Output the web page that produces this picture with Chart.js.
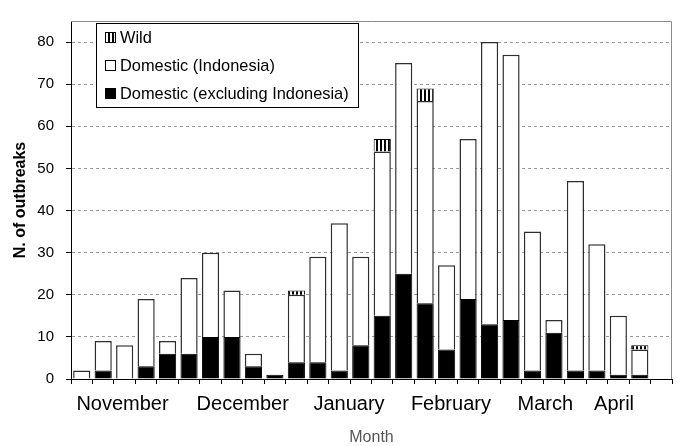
<!DOCTYPE html>
<html>
<head>
<meta charset="utf-8">
<script src="https://cdn.jsdelivr.net/npm/chart.js@4/dist/chart.umd.min.js"></script>
<style>
  html, body { margin: 0; padding: 0; background: #fff; }
  #wrap { width: 678px; height: 446px; }
</style>
</head>
<body>
<div id="wrap"><canvas id="c" width="678" height="446"></canvas></div>
<script>
// Weekly outbreak counts, November to April (28 weekly slots, last one empty)
const weeks = Array.from({ length: 28 }, (_, i) => 'W' + (i + 1));
const domesticExclIndonesia = [0, 2, 0, 3, 6, 6, 10, 10, 3, 1, 4, 4, 2, 8, 15, 25, 18, 7, 19, 13, 14, 2, 11, 2, 2, 1, 1, 0];
const domesticIndonesia     = [2, 7, 8, 16, 3, 18, 20, 11, 3, 0, 16, 25, 35, 21, 39, 50, 48, 20, 38, 67, 63, 33, 3, 45, 30, 14, 6, 0];
const wild                  = [0, 0, 0, 0, 0, 0, 0, 0, 0, 0, 1, 0, 0, 0, 3, 0, 3, 0, 0, 0, 0, 0, 0, 0, 0, 0, 1, 0];

const yTicks = [0, 10, 20, 30, 40, 50, 60, 70, 80];
const monthNames = ['November', 'December', 'January', 'February', 'March', 'April'];
// week index (in slot units) under which each month name is centred
const monthTickAt = [2.4, 8.0, 12.95, 17.7, 22.1, 25.3];

const FONT = '"Liberation Sans", Arial, sans-serif';

const canvas = document.getElementById('c');
const ctx0 = canvas.getContext('2d');

// vertical black/white stripes used for the "Wild" series
function stripePattern(ctx) {
  const p = document.createElement('canvas');
  p.width = 4; p.height = 4;
  const g = p.getContext('2d');
  g.fillStyle = '#fff'; g.fillRect(0, 0, 4, 4);
  g.fillStyle = '#000'; g.fillRect(0, 0, 2, 4);
  return ctx.createPattern(p, 'repeat');
}
const stripes = stripePattern(ctx0);

// grey frame on the top and right of the plot area
const framePlugin = {
  id: 'frame',
  beforeDatasetsDraw(chart) {
    const { ctx, chartArea: a } = chart;
    ctx.save();
    ctx.strokeStyle = '#8a8a8a';
    ctx.lineWidth = 1;
    ctx.beginPath();
    ctx.moveTo(a.left, Math.round(a.top) + 0.5);
    ctx.lineTo(Math.round(a.right) - 0.5, Math.round(a.top) + 0.5);
    ctx.lineTo(Math.round(a.right) - 0.5, a.bottom);
    ctx.stroke();
    ctx.restore();
  }
};

// boxed legend inside the plot, top-left
const legendBoxPlugin = {
  id: 'legendBox',
  afterDraw(chart) {
    const { ctx } = chart;
    const box = { x: 96, y: 23, w: 262, h: 84 };
    ctx.save();
    ctx.fillStyle = '#fff';
    ctx.fillRect(box.x, box.y, box.w, box.h);
    ctx.strokeStyle = '#000';
    ctx.lineWidth = 1;
    ctx.strokeRect(box.x + 0.5, box.y + 0.5, box.w, box.h);

    const items = [chart.data.datasets[2], chart.data.datasets[1], chart.data.datasets[0]];
    const baselines = [43, 71, 99];
    ctx.font = '16.4px ' + FONT;
    ctx.textBaseline = 'alphabetic';
    ctx.textAlign = 'left';
    items.forEach((ds, i) => {
      const by = baselines[i];
      const sx = 105, sy = by - 11, s = 11;
      ctx.fillStyle = ds.backgroundColor;
      ctx.fillRect(sx, sy, s, s);
      ctx.strokeStyle = '#000';
      ctx.lineWidth = 1;
      ctx.strokeRect(sx + 0.5, sy + 0.5, s - 1, s - 1);
      ctx.fillStyle = '#000';
      ctx.fillText(ds.label, 120, by);
    });
    ctx.restore();
  }
};

const bw = (w) => (c) => (c.raw ? w : 0);

new Chart(canvas, {
  type: 'bar',
  data: {
    labels: weeks,
    datasets: [
      { label: 'Domestic (excluding Indonesia)', data: domesticExclIndonesia,
        backgroundColor: '#000', borderColor: '#000', borderWidth: bw(1) },
      { label: 'Domestic (Indonesia)', data: domesticIndonesia,
        backgroundColor: '#fff', borderColor: '#2e2e2e', borderWidth: bw(1.5) },
      { label: 'Wild', data: wild,
        backgroundColor: stripes, borderColor: '#000', borderWidth: bw(1) }
    ]
  },
  options: {
    responsive: false,
    animation: false,
    devicePixelRatio: 1,
    layout: { padding: { top: 8, right: 6, bottom: 0, left: 0 } },
    datasets: { bar: { barPercentage: 0.8, categoryPercentage: 1 } },
    plugins: { legend: { display: false }, tooltip: { enabled: false } },
    scales: {
      x: {
        stacked: true,
        offset: true,
        grid: { offset: true, drawOnChartArea: false, drawTicks: true, tickLength: 5, tickColor: '#000', tickWidth: 1 },
        border: { color: '#000', width: 1 },
        ticks: { display: false },
        afterFit: (s) => { s.height = 6; }
      },
      month: {
        type: 'linear',
        axis: 'x',
        position: 'bottom',
        weight: 1,
        min: 0,
        max: 28,
        offset: false,
        grid: { display: false, drawTicks: false, offset: false },
        border: { display: false },
        afterBuildTicks: (s) => { s.ticks = monthTickAt.map((v) => ({ value: v })); },
        ticks: {
          autoSkip: false, maxRotation: 0, minRotation: 0, padding: 7, color: '#000',
          font: { family: FONT, size: 20 },
          callback: (v) => { const i = monthTickAt.indexOf(v); return i >= 0 ? monthNames[i] : ''; }
        },
        title: { display: true, text: 'Month', color: '#555', font: { family: FONT, size: 16, lineHeight: 1 }, padding: { top: 0, bottom: 0 } },
        afterFit: (s) => { s.height = 61; }
      },
      y: {
        stacked: true,
        min: 0,
        max: 85,
        afterBuildTicks: (s) => { s.ticks = yTicks.map((v) => ({ value: v })); },
        grid: {
          color: (c) => (c.tick && c.tick.value === 0 ? 'rgba(0,0,0,0)' : '#9a9a9a'),
          tickColor: '#000', tickLength: 5, drawTicks: true
        },
        border: { color: '#000', width: 1, dash: [3, 3] },
        ticks: { padding: 12, color: '#000', font: { family: FONT, size: 15 } },
        title: { display: true, text: 'N. of outbreaks', color: '#000', font: { family: FONT, size: 16, weight: 'bold' }, padding: { top: 11, bottom: 0 } },
        afterFit: (s) => { s.width = 71; }
      }
    }
  },
  plugins: [framePlugin, legendBoxPlugin]
});
</script>
</body>
</html>
